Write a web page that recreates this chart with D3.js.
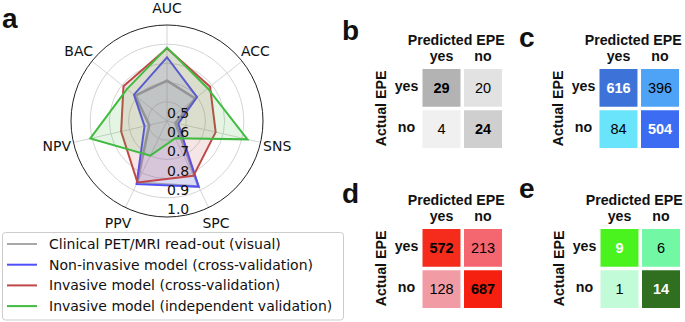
<!DOCTYPE html>
<html><head><meta charset="utf-8">
<script src="https://cdn.jsdelivr.net/npm/d3@7"></script>
<style>
body{margin:0;background:#fff;}
svg{display:block;}
</style></head>
<body><svg id="c" width="685" height="322"></svg>
<script>
// ---------- data ----------
const axes = ["AUC","ACC","SNS","SPC","PPV","NPV","BAC"];
const rTicks = [0.5,0.6,0.7,0.8,0.9,1.0];
const seriesNames = ["Clinical PET/MRI read-out (visual)","Non-invasive model (cross-validation)","Invasive model (cross-validation)","Invasive model (independent validation)"];
const clinicalVals   = [0.71, 0.688, 0.545, 0.879, 0.857, 0.595, 0.712];
const noninvVals     = [0.832, 0.70, 0.56, 0.88, 0.865, 0.62, 0.72];
const invasiveCVVals = [0.879, 0.787, 0.76, 0.817, 0.855, 0.745, 0.79];
const invasiveIVVals = [0.882, 0.772, 0.93, 0.60, 0.70, 0.91, 0.767];
const matLabels = ["yes","no"];
const matB = [[29,20],[4,24]];
const matC = [[616,396],[84,504]];
const matD = [[572,213],[128,687]];
const matE = [[9,6],[1,14]];

// ---------- styles ----------
const seriesColors = ["#a8a8a8","#5050fa","#c04848","#40bb40"];
const colB = [["#b3b3b3","#e2e2e2"],["#f0f0f0","#cfcfcf"]];
const colC = [["#3d73d9","#4fa3f7"],["#69e4fb","#3b6cf2"]];
const colD = [["#f52c1c","#f46670"],["#f19ca4","#f5200f"]];
const colE = [["#4af21e","#72f7a5"],["#c2fbd7","#2f6f1f"]];
const txtB = [["#000","#000"],["#000","#000"]];
const txtW = [["#fff","#000"],["#000","#fff"]];

const svg = d3.select("#c");
const DJ = "DejaVu Sans, sans-serif";
const AR = "Liberation Sans, Arial, sans-serif";

// ---------- radar ----------
const cx = 167, cy = 121, R = 96;
const rScale = d3.scaleLinear().domain([0.5,1.0]).range([0,R]);
const aScale = d3.scaleLinear().domain([0,axes.length]).range([0,2*Math.PI]);
const g = svg.append("g").attr("transform",`translate(${cx},${cy})`);

rTicks.slice(1,-1).forEach(t=>{
  g.append("circle").attr("r",rScale(t)).attr("fill","none").attr("stroke","#cfcfcf").attr("stroke-width",0.9);
});
axes.forEach((a,i)=>{
  const ang = aScale(i);
  g.append("line").attr("x1",0).attr("y1",0)
    .attr("x2",R*Math.sin(ang)).attr("y2",-R*Math.cos(ang))
    .attr("stroke","#cfcfcf").attr("stroke-width",0.9);
});
g.append("circle").attr("r",R).attr("fill","none").attr("stroke","#222").attr("stroke-width",1);

const allSeries = [clinicalVals,noninvVals,invasiveCVVals,invasiveIVVals];
const radial = d3.lineRadial().angle((d,i)=>aScale(i)).radius(d=>rScale(d)).curve(d3.curveLinearClosed);
allSeries.forEach((vals,k)=>{
  g.append("path").attr("d",radial(vals))
    .attr("fill",seriesColors[k]).attr("fill-opacity",0.14)
    .attr("stroke",seriesColors[k]).attr("stroke-width",k===0?2.6:2).attr("stroke-linejoin","miter");
});

rTicks.forEach(t=>{
  g.append("text").attr("x",0).attr("y",rScale(t)-3)
    .attr("font-family",DJ).attr("font-size",14).attr("fill","#111").text(t.toFixed(1));
});
axes.forEach((a,i)=>{
  const ang = aScale(i), rl = 113;
  g.append("text").attr("x",rl*Math.sin(ang)).attr("y",-rl*Math.cos(ang))
    .attr("text-anchor","middle").attr("dominant-baseline","central")
    .attr("font-family",DJ).attr("font-size",14).attr("fill","#111").text(a);
});

// legend
const lg = svg.append("g");
lg.append("rect").attr("x",2.5).attr("y",232.5).attr("width",341).attr("height",87.5).attr("rx",3)
  .attr("fill","#fff").attr("fill-opacity",0.8).attr("stroke","#cccccc");
seriesNames.forEach((n,k)=>{
  const y = 244 + k*20.7;
  lg.append("line").attr("x1",7).attr("x2",37).attr("y1",y).attr("y2",y)
    .attr("stroke",seriesColors[k]).attr("stroke-width",2);
  lg.append("text").attr("x",49).attr("y",y+5).attr("font-family",DJ).attr("font-size",14)
    .attr("fill","#111").text(n);
});

// ---------- confusion matrices ----------
function matrix(x0,y0,vals,cols,txt){
  const xs = d3.scaleBand().domain(matLabels).range([x0,x0+79.5]).paddingInner(0.085);
  const ys = d3.scaleBand().domain(matLabels).range([y0,y0+79]).paddingInner(0.085);
  const m = svg.append("g");
  matLabels.forEach((r,i)=>matLabels.forEach((c,j)=>{
    m.append("rect").attr("x",xs(c)).attr("y",ys(r)).attr("width",xs.bandwidth()).attr("height",ys.bandwidth())
      .attr("fill",cols[i][j]);
    m.append("text").attr("x",xs(c)+xs.bandwidth()/2).attr("y",ys(r)+ys.bandwidth()/2+5)
      .attr("text-anchor","middle").attr("font-family",AR).attr("font-size",14.5)
      .attr("font-weight",i===j?"bold":"normal").attr("fill",txt[i][j]).text(vals[i][j]);
  }));
  const mid = x0+79.5/2;
  m.append("text").attr("x",mid-6).attr("y",y0-24.5).attr("text-anchor","middle")
    .attr("font-family",AR).attr("font-weight","bold").attr("font-size",14.2).attr("fill","#111").text("Predicted EPE");
  matLabels.forEach(c=>{
    m.append("text").attr("x",xs(c)+xs.bandwidth()/2).attr("y",y0-8.5).attr("text-anchor","middle")
      .attr("font-family",AR).attr("font-weight","bold").attr("font-size",14.2).attr("fill","#111").text(c);
  });
  matLabels.forEach(r=>{
    m.append("text").attr("x",x0-16).attr("y",ys(r)+ys.bandwidth()/2+3).attr("text-anchor","middle")
      .attr("font-family",AR).attr("font-weight","bold").attr("font-size",14.2).attr("fill","#111").text(r);
  });
  m.append("text").attr("transform",`translate(${x0-36.5},${y0+39.5}) rotate(-90)`).attr("text-anchor","middle")
    .attr("font-family",AR).attr("font-weight","bold").attr("font-size",14.2).attr("fill","#111").text("Actual EPE");
}
matrix(422.5,69,matB,colB,txtB);
matrix(599.5,69,matC,colC,txtW);
matrix(422.5,229,matD,colD,txtB);
matrix(600.5,229,matE,colE,txtW);

// panel letters
[["a",2,28],["b",342,40],["c",519,47],["d",342,203],["e",519,198]].forEach(([t,x,y])=>{
  svg.append("text").attr("x",x).attr("y",y).attr("font-family",AR).attr("font-weight","bold")
    .attr("font-size",28).attr("fill","#111").text(t);
});
</script></body></html>
